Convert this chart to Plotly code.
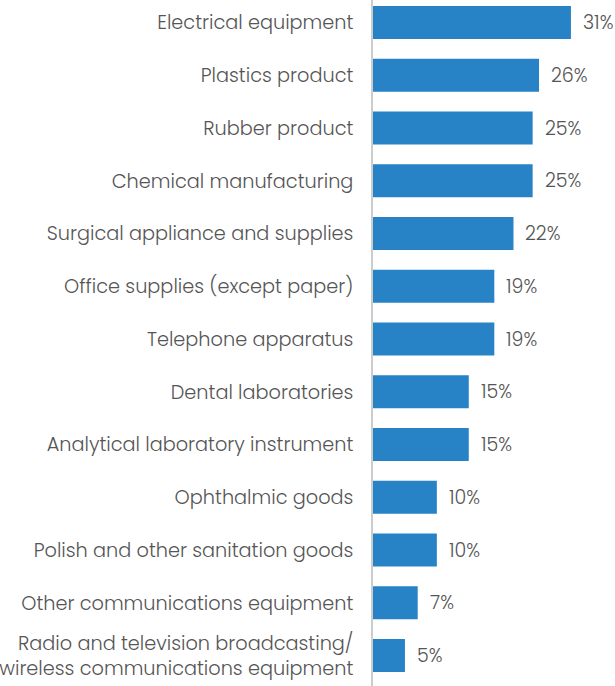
import plotly.graph_objects as go

categories = [
    "Electrical equipment",
    "Plastics product",
    "Rubber product",
    "Chemical manufacturing",
    "Surgical appliance and supplies",
    "Office supplies (except paper)",
    "Telephone apparatus",
    "Dental laboratories",
    "Analytical laboratory instrument",
    "Ophthalmic goods",
    "Polish and other sanitation goods",
    "Other communications equipment",
    "Radio and television broadcasting/<br>wireless communications equipment",
]
values = [31, 26, 25, 25, 22, 19, 19, 15, 15, 10, 10, 7, 5]
value_labels = [f"{v}%" for v in values]

BAR_COLOR = "#2783c6"
TEXT_COLOR = "#555555"
FONT = "Poppins, Lato, 'Open Sans', sans-serif"

fig = go.Figure(
    go.Bar(
        x=values,
        y=categories,
        orientation="h",
        marker=dict(color=BAR_COLOR, line=dict(width=0)),
        width=0.626,
        hoverinfo="x+y",
    )
)

# value labels placed just past the end of each bar
for cat, v, lab in zip(categories, values, value_labels):
    fig.add_annotation(
        x=v,
        y=cat,
        text=lab,
        showarrow=False,
        xanchor="left",
        yanchor="middle",
        xshift=10,
        font=dict(size=19, color=TEXT_COLOR, family=FONT, weight=300),
    )

fig.update_layout(
    width=615,
    height=686,
    margin=dict(l=373, r=0, t=0, b=0),
    paper_bgcolor="white",
    plot_bgcolor="white",
    showlegend=False,
    font=dict(family=FONT, color=TEXT_COLOR, size=19, weight=300),
)
fig.update_xaxes(
    range=[0, 37.9],
    visible=False,
    showgrid=False,
    zeroline=False,
)
fig.update_yaxes(
    type="category",
    range=[12.578, -0.4265],
    showgrid=False,
    zeroline=False,
    showline=True,
    linecolor="#cccccc",
    linewidth=1.5,
    ticks="outside",
    ticklen=14,
    tickcolor="rgba(0,0,0,0)",
    tickfont=dict(size=19.3, color=TEXT_COLOR, family=FONT, weight=300),
)

fig.write_html("out.html")
